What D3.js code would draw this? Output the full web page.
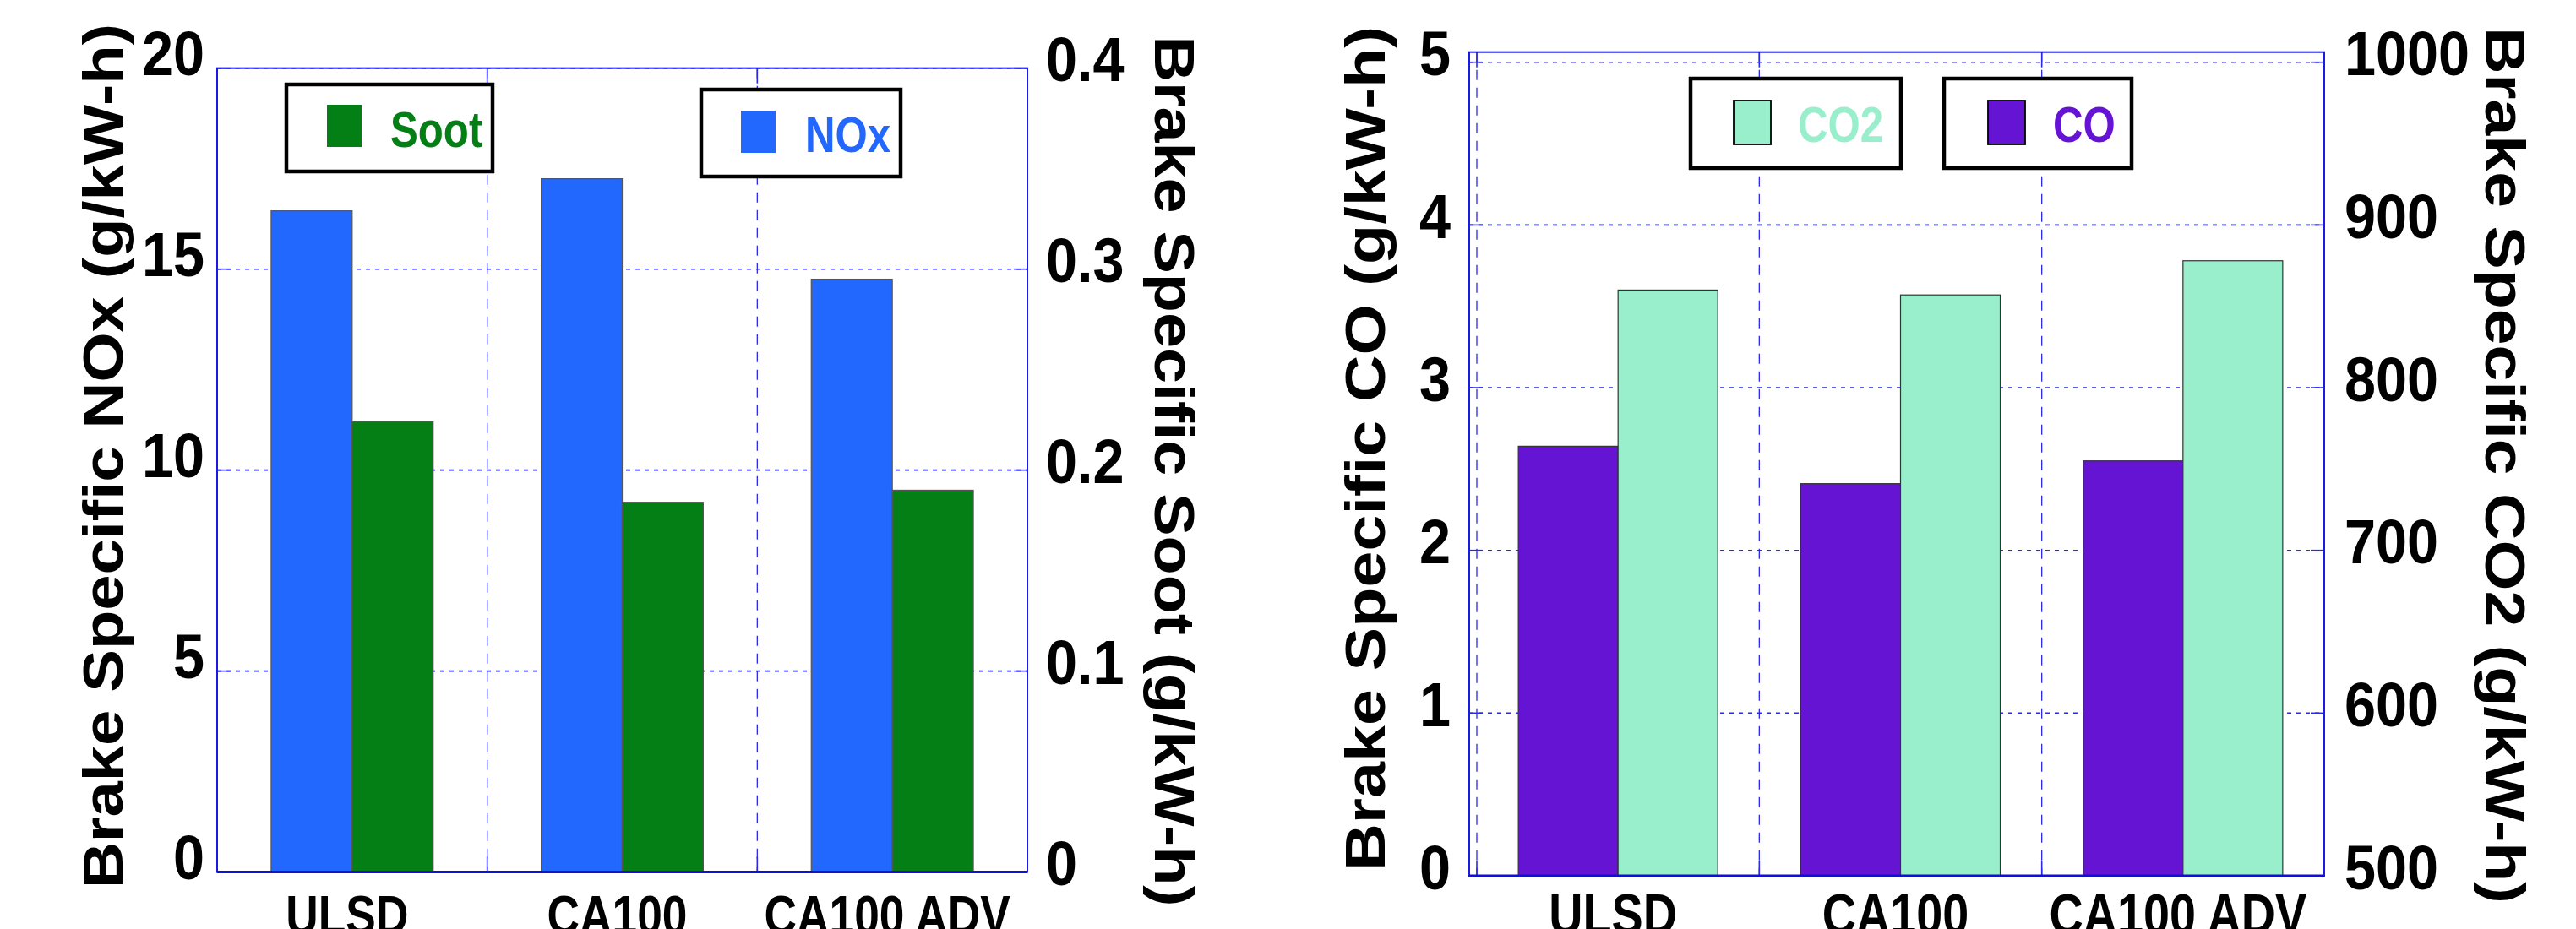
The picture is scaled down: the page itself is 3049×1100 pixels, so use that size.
<!DOCTYPE html>
<html>
<head>
<meta charset="utf-8">
<script src="https://cdn.jsdelivr.net/npm/d3@7"></script>
<style>
  body { margin: 0; background: #fff; }
  svg { display: block; }
</style>
</head>
<body>
<script>
// data
var categories = ["ULSD", "CA100", "CA100 ADV"];
var noxValues = [16.45, 17.25, 14.75];
var sootValues = [0.224, 0.184, 0.190];
var coValues = [2.64, 2.41, 2.55];
var co2Values = [860, 857, 878];

var noxTicks = [0, 5, 10, 15, 20];
var sootTicks = [0, 0.1, 0.2, 0.3, 0.4];
var coTicks = [0, 1, 2, 3, 4, 5];
var co2Ticks = [500, 600, 700, 800, 900, 1000];

var FONT = "'Liberation Sans', Arial, Helvetica, sans-serif";
var GRID = "#2a2ae6";

var svg = d3.select("body").append("svg")
    .attr("width", 3049)
    .attr("height", 1100);

svg.append("rect").attr("width", 3049).attr("height", 1100).attr("fill", "#fff");

// draws one of the two dual-axis panels
function drawPanel(p) {
    var g = svg.append("g");

    var x0 = d3.scaleBand().domain(categories).range([p.left, p.right]);
    var yL = d3.scaleLinear().domain(p.leftDomain).range([p.bottom, p.top]);
    var yR = d3.scaleLinear().domain(p.rightDomain).range([p.bottom, p.top]);

    // grid
    g.selectAll("line.hgrid")
        .data(p.leftTicks.filter(function(d) { return d > p.leftDomain[0]; }))
        .enter().append("line")
        .attr("class", "hgrid")
        .attr("x1", p.frameLeft).attr("x2", p.right)
        .attr("y1", function(d) { return yL(d); })
        .attr("y2", function(d) { return yL(d); })
        .attr("stroke", GRID).attr("stroke-width", 1.6)
        .attr("stroke-dasharray", "5,6");

    var vlines = categories.map(function(c) { return x0(c); }).filter(function(v) { return v > p.frameLeft + 2; });
    g.selectAll("line.vgrid")
        .data(vlines)
        .enter().append("line")
        .attr("class", "vgrid")
        .attr("x1", function(d) { return d; }).attr("x2", function(d) { return d; })
        .attr("y1", p.frameTop).attr("y2", p.bottom)
        .attr("stroke", GRID).attr("stroke-width", 1.3)
        .attr("stroke-dasharray", "12,9");

    // small solid ticks on the frame
    p.leftTicks.forEach(function(d) {
        g.append("line").attr("x1", p.frameLeft).attr("x2", p.frameLeft + 16)
            .attr("y1", yL(d)).attr("y2", yL(d)).attr("stroke", GRID).attr("stroke-width", 1.6);
        g.append("line").attr("x1", p.right - 16).attr("x2", p.right)
            .attr("y1", yL(d)).attr("y2", yL(d)).attr("stroke", GRID).attr("stroke-width", 1.6);
    });
    vlines.forEach(function(v) {
        g.append("line").attr("x1", v).attr("x2", v)
            .attr("y1", p.frameTop).attr("y2", p.frameTop + 18).attr("stroke", GRID).attr("stroke-width", 1.6);
        g.append("line").attr("x1", v).attr("x2", v)
            .attr("y1", p.bottom - 18).attr("y2", p.bottom).attr("stroke", GRID).attr("stroke-width", 1.6);
    });

    // bars
    var bw = x0.bandwidth() * p.barFrac;
    var groupOff = (x0.bandwidth() - 2 * bw) / 2;

    g.selectAll("rect.barA")
        .data(p.seriesA)
        .enter().append("rect")
        .attr("class", "barA")
        .attr("x", function(d, i) { return x0(categories[i]) + groupOff; })
        .attr("y", function(d) { return p.aAxis === "L" ? yL(d) : yR(d); })
        .attr("width", bw)
        .attr("height", function(d) { return p.bottom - (p.aAxis === "L" ? yL(d) : yR(d)); })
        .attr("fill", p.colorA)
        .attr("stroke", p.barStroke).attr("stroke-width", 1.2);

    g.selectAll("rect.barB")
        .data(p.seriesB)
        .enter().append("rect")
        .attr("class", "barB")
        .attr("x", function(d, i) { return x0(categories[i]) + groupOff + bw; })
        .attr("y", function(d) { return p.bAxis === "L" ? yL(d) : yR(d); })
        .attr("width", bw)
        .attr("height", function(d) { return p.bottom - (p.bAxis === "L" ? yL(d) : yR(d)); })
        .attr("fill", p.colorB)
        .attr("stroke", p.barStroke).attr("stroke-width", 1.2);

    // frame
    g.append("rect")
        .attr("x", p.frameLeft).attr("y", p.frameTop)
        .attr("width", p.right - p.frameLeft).attr("height", p.bottom - p.frameTop)
        .attr("fill", "none").attr("stroke", "#1a1ae6").attr("stroke-width", 2);
    g.append("line")
        .attr("x1", p.frameLeft).attr("x2", p.right)
        .attr("y1", p.bottom).attr("y2", p.bottom)
        .attr("stroke", "#1010d0").attr("stroke-width", 3);

    // axes
    function styleTicks(ax, dx, dy, anchor) {
        ax.select(".domain").remove();
        ax.selectAll(".tick line").remove();
        ax.selectAll(".tick text")
            .attr("x", 0).attr("y", 0).attr("dy", null)
            .attr("text-anchor", anchor)
            .attr("transform", "translate(" + dx + "," + dy + ") scale(0.9,1)")
            .attr("font-family", FONT)
            .attr("font-size", 74)
            .attr("font-weight", "bold")
            .attr("fill", "#000");
    }

    var axL = g.append("g")
        .attr("transform", "translate(" + p.frameLeft + ",0)")
        .call(d3.axisLeft(yL).tickValues(p.leftTicks).tickFormat(function(d) { return String(d); }));
    styleTicks(axL, p.leftLabelDx, p.leftLabelDy, "end");

    var axR = g.append("g")
        .attr("transform", "translate(" + p.right + ",0)")
        .call(d3.axisRight(yR).tickValues(p.rightTicks).tickFormat(function(d) { return String(d); }));
    styleTicks(axR, p.rightLabelDx, p.rightLabelDy, "start");

    var axB = g.append("g")
        .attr("transform", "translate(0," + p.bottom + ")")
        .call(d3.axisBottom(x0));
    axB.select(".domain").remove();
    axB.selectAll(".tick line").remove();
    axB.selectAll(".tick text")
        .attr("x", 0).attr("y", 0).attr("dy", null)
        .attr("text-anchor", "middle")
        .attr("transform", "translate(-6," + (1106 - p.bottom) + ") scale(0.82,1)")
        .attr("font-family", FONT)
        .attr("font-size", p.catFont)
        .attr("font-weight", "bold")
        .attr("fill", "#000");

    // axis titles
    g.append("text")
        .attr("transform", "translate(" + p.titleL.x + "," + p.titleL.y + ") rotate(-90)")
        .attr("text-anchor", "middle")
        .attr("font-family", FONT).attr("font-size", 67).attr("font-weight", "bold")
        .attr("textLength", p.titleL.len).attr("lengthAdjust", "spacingAndGlyphs")
        .text(p.titleL.text);
    g.append("text")
        .attr("transform", "translate(" + p.titleR.x + "," + p.titleR.y + ") rotate(90)")
        .attr("text-anchor", "middle")
        .attr("font-family", FONT).attr("font-size", 67).attr("font-weight", "bold")
        .attr("textLength", p.titleR.len).attr("lengthAdjust", "spacingAndGlyphs")
        .text(p.titleR.text);

    // legends
    p.legends.forEach(function(l) {
        var lg = g.append("g");
        lg.append("rect")
            .attr("x", l.x).attr("y", l.y).attr("width", l.w).attr("height", l.h)
            .attr("fill", "#fff").attr("stroke", "#000").attr("stroke-width", 4.5);
        lg.append("rect")
            .attr("x", l.sx).attr("y", l.sy).attr("width", l.sw).attr("height", l.sh)
            .attr("fill", l.color)
            .attr("stroke", l.swStroke ? "#000" : "none").attr("stroke-width", 1.8);
        lg.append("text")
            .attr("transform", "translate(" + l.tx + "," + l.ty + ") scale(0.82,1)")
            .attr("font-family", FONT).attr("font-size", 60).attr("font-weight", "bold")
            .attr("fill", l.color)
            .text(l.label);
    });
}

drawPanel({
    left: 257, right: 1216, frameLeft: 257, top: 80.7, frameTop: 80.7, bottom: 1032.6,
    leftDomain: [0, 20], rightDomain: [0, 0.4],
    leftTicks: noxTicks, rightTicks: sootTicks,
    seriesA: noxValues, aAxis: "L", colorA: "#2268ff",
    seriesB: sootValues, bAxis: "R", colorB: "#037f15",
    barFrac: 0.30, barStroke: "#555",
    leftLabelDx: -15, leftLabelDy: 8,
    rightLabelDx: 22, rightLabelDy: 15,
    catFont: 65,
    titleL: { x: 145, y: 540, len: 1024, text: "Brake Specific NOx (g/kW-h)" },
    titleR: { x: 1367, y: 558, len: 1031, text: "Brake Specific Soot (g/kW-h)" },
    legends: [
        { x: 339, y: 100, w: 244, h: 103, sx: 387, sy: 124, sw: 41, sh: 50, tx: 462, ty: 174,
          color: "#037f15", label: "Soot", swStroke: false },
        { x: 830, y: 106, w: 236, h: 103, sx: 877, sy: 131, sw: 41, sh: 50, tx: 953, ty: 180,
          color: "#2268ff", label: "NOx", swStroke: false }
    ]
});

drawPanel({
    left: 1748, right: 2751, frameLeft: 1739, top: 73.7, frameTop: 61.7, bottom: 1037,
    leftDomain: [0, 5], rightDomain: [500, 1000],
    leftTicks: coTicks, rightTicks: co2Ticks,
    seriesA: coValues, aAxis: "L", colorA: "#6614d4",
    seriesB: co2Values, bAxis: "R", colorB: "#99eecc",
    barFrac: 0.353, barStroke: "#333",
    leftLabelDx: -22, leftLabelDy: 15,
    rightLabelDx: 24, rightLabelDy: 15,
    catFont: 68,
    titleL: { x: 1639, y: 531, len: 1000, text: "Brake Specific CO (g/kW-h)" },
    titleR: { x: 2942, y: 551, len: 1038, text: "Brake Specific CO2 (g/kW-h)" },
    legends: [
        { x: 2001, y: 93, w: 249, h: 106, sx: 2052, sy: 119, sw: 44, sh: 52, tx: 2128, ty: 168,
          color: "#99eecc", label: "CO2", swStroke: true },
        { x: 2301, y: 93, w: 222, h: 106, sx: 2353, sy: 119, sw: 44, sh: 52, tx: 2430, ty: 168,
          color: "#6614d4", label: "CO", swStroke: true }
    ]
});
</script>
</body>
</html>
